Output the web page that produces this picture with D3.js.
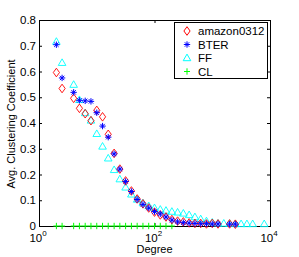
<!DOCTYPE html>
<html>
<head>
<meta charset="utf-8">
<script src="https://cdn.jsdelivr.net/npm/d3@7"></script>
<style>
  body { margin: 0; background: #fff; }
  text { font-family: "Liberation Sans", Arial, sans-serif; }
</style>
</head>
<body>
<svg width="299" height="257"></svg>
<script>
// degree bins (log-spaced)
const degAmazon = [2.0, 2.51, 3.98, 5.01, 6.31, 7.94, 10, 12.6, 15.8, 20, 25.1, 31.6, 39.8, 50.1, 63.1, 79.4,
  100, 126, 158, 200, 251, 316, 398, 501, 631, 794, 1000, 1259, 1995, 2512];
const ccAmazon = [0.596, 0.534, 0.496, 0.457, 0.436, 0.409, 0.449, 0.424, 0.356, 0.282, 0.221, 0.175, 0.136, 0.105, 0.086, 0.070,
  0.054, 0.043, 0.035, 0.025, 0.019, 0.016, 0.012, 0.010, 0.010, 0.008, 0.010, 0.008, 0.008, 0.007];

const degBter = [2.0, 2.51, 3.98, 5.01, 6.31, 7.94, 10, 12.6, 15.8, 20, 25.1, 31.6, 39.8, 50.1, 63.1, 79.4,
  100, 126, 158, 200, 251, 316, 398, 501, 631, 794, 1000, 1259, 1995, 2512];
const ccBter = [0.704, 0.575, 0.519, 0.488, 0.486, 0.484, 0.440, 0.388, 0.345, 0.280, 0.221, 0.173, 0.134, 0.103, 0.084, 0.070,
  0.056, 0.047, 0.035, 0.023, 0.016, 0.013, 0.011, 0.010, 0.009, 0.009, 0.008, 0.008, 0.007, 0.007];

const degFf = [2.0, 2.51, 3.98, 5.01, 6.31, 7.94, 10, 12.6, 15.8, 20, 25.1, 31.6, 39.8, 50.1, 63.1, 79.4,
  100, 126, 158, 200, 251, 316, 398, 501, 631, 794, 1000, 1259, 1585, 1995, 2512, 3162, 3981, 5012, 7943];
const ccFf = [0.716, 0.634, 0.549, 0.490, 0.439, 0.410, 0.358, 0.309, 0.263, 0.218, 0.182, 0.150, 0.123, 0.103, 0.089, 0.078,
  0.070, 0.064, 0.060, 0.056, 0.053, 0.049, 0.043, 0.035, 0.027, 0.019, 0.014, 0.010, 0.010, 0.009, 0.008, 0.008, 0.008, 0.008, 0.008];

const degCl = [2.0, 2.51, 3.98, 5.01, 6.31, 7.94, 10, 12.6, 15.8, 20, 25.1, 31.6, 39.8, 50.1, 63.1, 79.4,
  100, 126, 158, 200];
const ccCl = [0, 0, 0, 0, 0, 0, 0, 0, 0, 0, 0, 0, 0, 0, 0, 0, 0, 0, 0, 0];

const seriesNames = ['amazon0312', 'BTER', 'FF', 'CL'];
const yTicks = [0, 0.1, 0.2, 0.3, 0.4, 0.5, 0.6, 0.7, 0.8];
const xTicks = [1, 100, 10000];
const xTickExp = ['0', '2', '4'];

const svg = d3.select('svg');
const mLeft = 39, mRight = 270, mTop = 20, mBottom = 226;

const x = d3.scaleLog().domain([1, 10000]).range([mLeft, mRight]);
const y = d3.scaleLinear().domain([0, 0.8]).range([mBottom, mTop]);

// axes with inward ticks (box on)
const yAxis = svg.append('g')
  .attr('transform', `translate(${mLeft},0)`)
  .call(d3.axisLeft(y).tickValues(yTicks).tickSize(-3).tickPadding(3)
    .tickFormat(d => d === 0 ? '0' : d3.format('.1f')(d)));
yAxis.selectAll('text').attr('font-size', '11.5px').attr('fill', '#000')
  .style('font-family', '"Liberation Sans", Arial, sans-serif');

svg.append('g')
  .attr('transform', `translate(${mRight},0)`)
  .call(d3.axisRight(y).tickValues(yTicks).tickSize(-3).tickFormat(''));

svg.append('g')
  .attr('transform', `translate(0,${mBottom})`)
  .call(d3.axisBottom(x).tickValues(xTicks).tickSize(-3).tickFormat(''));

svg.append('g')
  .attr('transform', `translate(0,${mTop})`)
  .call(d3.axisTop(x).tickValues(xTicks).tickSize(-3).tickFormat(''));

svg.selectAll('.domain').attr('stroke', '#000');
svg.selectAll('.tick line').attr('stroke', '#000');

xTicks.forEach((t, i) => {
  const lbl = svg.append('text')
    .attr('x', x(t) - 1)
    .attr('y', 242)
    .attr('text-anchor', 'middle')
    .attr('font-size', '11.5px');
  lbl.append('tspan').text('10');
  lbl.append('tspan').attr('dy', -6).attr('font-size', '8px').text(xTickExp[i]);
});

svg.append('text')
  .attr('x', (mLeft + mRight) / 2)
  .attr('y', 253)
  .attr('text-anchor', 'middle')
  .attr('font-size', '11px')
  .text('Degree');

svg.append('text')
  .attr('transform', `translate(15,${(mTop + mBottom) / 2 + 1}) rotate(-90)`)
  .attr('text-anchor', 'middle')
  .attr('font-size', '11px')
  .text('Avg. Clustering Coefficient');

const plot = svg.append('g');

// markers
const diamond = 'M0,-4.3L3.1,0L0,4.3L-3.1,0Z';
const triangle = 'M0,-3.9L3.8,2.7L-3.8,2.7Z';
const plus = 'M-3,0H3M0,-3.2V3.2';
const star = 'M-3.2,0H3.2M0,-3.2V3.2M-2.2,-2.2L2.2,2.2M-2.2,2.2L2.2,-2.2';

function drawSeries(degs, vals, path, color, width) {
  plot.append('g').selectAll('path')
    .data(degs.map((d, i) => [d, vals[i]]))
    .enter()
    .append('path')
    .attr('transform', d => `translate(${x(d[0])},${y(d[1])})`)
    .attr('d', path)
    .attr('fill', 'none')
    .attr('stroke', color)
    .attr('stroke-width', width);
}

drawSeries(degCl, ccCl, plus, '#00ff00', 1);
drawSeries(degFf, ccFf, triangle, '#00ffff', 0.9);
drawSeries(degAmazon, ccAmazon, diamond, '#ff0000', 0.9);
drawSeries(degBter, ccBter, star, '#0000ff', 1);

// legend
const legend = svg.append('g');
legend.append('rect')
  .attr('x', 174.5).attr('y', 22.5)
  .attr('width', 93).attr('height', 56)
  .attr('fill', '#fff').attr('stroke', '#000').attr('stroke-width', 1);

const legendMarks = [diamond, star, triangle, plus];
const legendColors = ['#ff0000', '#0000ff', '#00ffff', '#00ff00'];
const legendY = [31, 44.5, 58, 71.5];

seriesNames.forEach((name, i) => {
  legend.append('path')
    .attr('transform', `translate(187,${legendY[i]})`)
    .attr('d', legendMarks[i])
    .attr('fill', 'none')
    .attr('stroke', legendColors[i])
    .attr('stroke-width', 1);
  legend.append('text')
    .attr('x', 198)
    .attr('y', legendY[i] + 4)
    .attr('font-size', '11.5px')
    .text(name);
});
</script>
</body>
</html>
